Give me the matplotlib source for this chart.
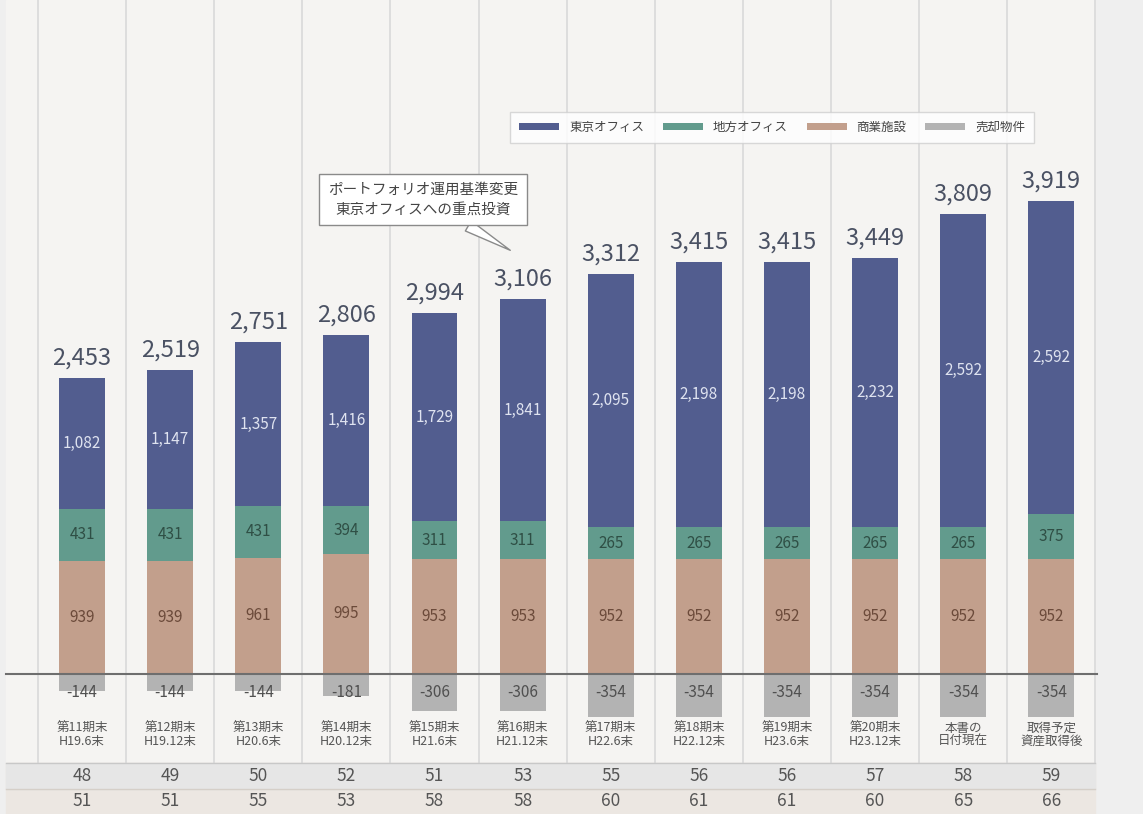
import numpy as np
import matplotlib
matplotlib.use("Agg")
from matplotlib import pyplot as plt

plt.rcParams["font.family"] = ["Noto Sans CJK JP", "DejaVu Sans"]

periods = ["第11期末\nH19.6末", "第12期末\nH19.12末", "第13期末\nH20.6末",
           "第14期末\nH20.12末", "第15期末\nH21.6末", "第16期末\nH21.12末",
           "第17期末\nH22.6末", "第18期末\nH22.12末", "第19期末\nH23.6末",
           "第20期末\nH23.12末", "本書の\n日付現在", "取得予定\n資産取得後"]
tokyo_office = [1082, 1147, 1357, 1416, 1729, 1841, 2095, 2198, 2198, 2232, 2592, 2592]
regional_office = [431, 431, 431, 394, 311, 311, 265, 265, 265, 265, 265, 375]
retail = [939, 939, 961, 995, 953, 953, 952, 952, 952, 952, 952, 952]
sold = [-144, -144, -144, -181, -306, -306, -354, -354, -354, -354, -354, -354]
totals = [2453, 2519, 2751, 2806, 2994, 3106, 3312, 3415, 3415, 3449, 3809, 3919]
row1 = [48, 49, 50, 52, 51, 53, 55, 56, 56, 57, 58, 59]
row2 = [51, 51, 55, 53, 58, 58, 60, 61, 61, 60, 65, 66]

c_tokyo = "#525d8f"
c_region = "#629b8d"
c_retail = "#c29f8c"
c_sold = "#b3b3b3"

fig = plt.figure(figsize=(11.43, 8.14), dpi=100, facecolor="#efefef")
ax = fig.add_axes([0, 0, 1, 1])
ax.set_facecolor("#efefef")
ax.set_xlim(-0.931, 12.04)
ax.set_ylim(-1160, 5584)
ax.axis("off")

x = np.arange(len(periods))
n = len(x)
w = 0.52
trans = ax.get_xaxis_transform()

# panel background and column separators
ax.axvspan(-0.86, 11.5, ymin=0.063, color="#f5f4f2", zorder=0)
ax.axvspan(-0.86, 11.5, ymax=0.063, color="#ece7e2", zorder=0)
ax.axvspan(-0.86, 11.5, ymin=0.031, ymax=0.063, color="#e6e6e6", zorder=0)
for xs in np.arange(-0.5, n, 1.0):
    ax.axvline(xs, ymin=0.063, color="#d9d9d9", lw=1.2, zorder=1)
ax.plot([-0.86, 11.5], [0.063, 0.063], transform=trans, color="#c8c8c8", lw=1)
ax.plot([-0.86, 11.5], [0.031, 0.031], transform=trans, color="#d5cfc8", lw=1)

ax.bar(x, retail, w, color=c_retail, zorder=2, label="商業施設")
ax.bar(x, regional_office, w, bottom=retail, color=c_region, zorder=2, label="地方オフィス")
base = np.array(retail) + np.array(regional_office)
ax.bar(x, tokyo_office, w, bottom=base, color=c_tokyo, zorder=2, label="東京オフィス")
ax.bar(x, sold, w, color=c_sold, zorder=2, label="売却物件")
ax.axhline(0, xmin=0.005, xmax=0.96, color="#6e6e6e", lw=1.5, zorder=3)

for i in range(n):
    top = base[i] + tokyo_office[i]
    ax.text(x[i], top + 70, f"{totals[i]:,}", ha="center", va="bottom",
            fontsize=17, color="#4a5163", zorder=4)
    ax.text(x[i], base[i] + tokyo_office[i] * 0.5, f"{tokyo_office[i]:,}",
            ha="center", va="center", fontsize=11, color="#dfe3f0", zorder=4)
    ax.text(x[i], retail[i] + regional_office[i] / 2, f"{regional_office[i]}",
            ha="center", va="center", fontsize=11, color="#2f4f45", zorder=4)
    ax.text(x[i], retail[i] * 0.5, f"{retail[i]}",
            ha="center", va="center", fontsize=11, color="#6b4a3a", zorder=4)
    ax.text(x[i], -150, f"{sold[i]}", ha="center", va="center",
            fontsize=11, color="#505050", zorder=4)
    ax.text(x[i], 0.097, periods[i], transform=trans, ha="center", va="center",
            fontsize=9, color="#555555", linespacing=1.0, zorder=4)
    ax.text(x[i], 0.047, f"{row1[i]}", transform=trans, ha="center", va="center",
            fontsize=12.5, color="#555555", zorder=4)
    ax.text(x[i], 0.016, f"{row2[i]}", transform=trans, ha="center", va="center",
            fontsize=12.5, color="#555555", zorder=4)

handles, labels = ax.get_legend_handles_labels()
order = [2, 1, 0, 3]
leg = ax.legend([handles[k] for k in order], [labels[k] for k in order],
                loc="upper left", bbox_to_anchor=(0.441, 0.87), ncol=4,
                fontsize=9, frameon=True, fancybox=False, handlelength=3.2,
                handleheight=0.45, columnspacing=1.5, borderpad=0.7,
                labelcolor="#444444")
leg.get_frame().set_facecolor("white")
leg.get_frame().set_edgecolor("#cfcfcf")

ax.annotate("ポートフォリオ運用基準変更\n東京オフィスへの重点投資",
            xy=(4.86, 3510), xytext=(3.87, 3930), ha="center", va="center",
            fontsize=10.5, color="#444444", linespacing=1.55, zorder=5,
            bbox=dict(boxstyle="square,pad=0.6", fc="white", ec="#8a8a8a", lw=1),
            arrowprops=dict(arrowstyle="wedge,tail_width=0.8", fc="white",
                            ec="#8a8a8a", lw=1, shrinkA=0, shrinkB=0))

fig.savefig("out.png", dpi=100, facecolor=fig.get_facecolor())
